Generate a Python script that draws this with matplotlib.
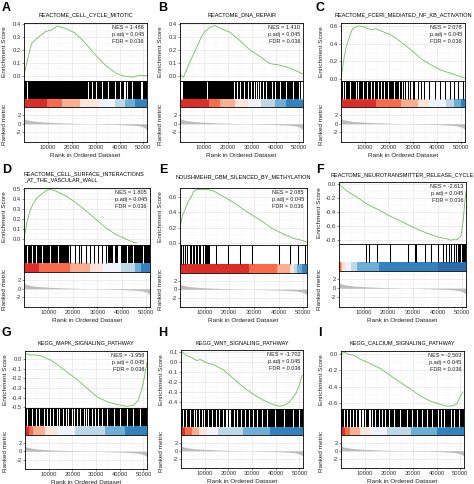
import matplotlib.pyplot as plt

plt.rcParams['font.family'] = ['Liberation Sans', 'DejaVu Sans']
plt.rcParams['axes.unicode_minus'] = False

W, H = 474, 484
x_max = 51500

panels = ['A', 'B', 'C', 'D', 'E', 'F', 'G', 'H', 'I']

titles = {
    'A': 'REACTOME_CELL_CYCLE_MITOTIC',
    'B': 'REACTOME_DNA_REPAIR',
    'C': 'REACTOME_FCERI_MEDIATED_NF_KB_ACTIVATION',
    'D': 'REACTOME_CELL_SURFACE_INTERACTIONS\n_AT_THE_VASCULAR_WALL',
    'E': 'NOUSHMEHR_GBM_SILENCED_BY_METHYLATION',
    'F': 'REACTOME_NEUROTRANSMITTER_RELEASE_CYCLE',
    'G': 'KEGG_MAPK_SIGNALING_PATHWAY',
    'H': 'KEGG_WNT_SIGNALING_PATHWAY',
    'I': 'KEGG_CALCIUM_SIGNALING_PATHWAY',
}
nes = {'A': '1.486', 'B': '1.410', 'C': '2.078', 'D': '1.805', 'E': '2.085',
       'F': '-2.613', 'G': '-1.958', 'H': '-1.702', 'I': '-2.563'}
padj = '0.045'
fdr = '0.036'

# running enrichment score
es_x = {
    'A': [0, 900, 1800, 3200, 6100, 8900, 11700, 13800, 17300, 21500, 25800, 30000, 34200, 38500, 41300, 45500, 48300, 51500],
    'B': [0, 1400, 4200, 7000, 9000, 10400, 12500, 14600, 17400, 20900, 25100, 29200, 33400, 37600, 41100, 44500, 48000, 51500],
    'C': [0, 1100, 2100, 3500, 4800, 6900, 8300, 10400, 12500, 14500, 16600, 20800, 24900, 29100, 33200, 37400, 41500, 45700, 49800, 51500],
    'D': [0, 1100, 2400, 3800, 5200, 7200, 9200, 10600, 13300, 17400, 21500, 25600, 29600, 33700, 37800, 41900, 44600, 46000],
    'E': [270, 1100, 2000, 3400, 4700, 5400, 6800, 8800, 11500, 13600, 17600, 21700, 25700, 29800, 33900, 37900, 42000, 46100, 48800, 51500],
    'F': [0, 3400, 7500, 11500, 15600, 19600, 23700, 27800, 31800, 35900, 40000, 44000, 45400, 46700, 48100, 49500, 50400, 51100, 51500],
    'G': [300, 2100, 4200, 6300, 8500, 10600, 13400, 17600, 21900, 26100, 30300, 34500, 38800, 43000, 45800, 47900, 49400, 50300, 51500],
    'H': [400, 2500, 4600, 6700, 8100, 10900, 13700, 17900, 22100, 26300, 30500, 34700, 38900, 41700, 44500, 46600, 48700, 50100, 51200],
    'I': [400, 1800, 3200, 5300, 8100, 12300, 16500, 20700, 24900, 29100, 33300, 37500, 41700, 44500, 47300, 48700, 50100, 51100],
}
es_y = {
    'A': [0.0, 0.08, 0.15, 0.25, 0.30, 0.34, 0.355, 0.385, 0.366, 0.33, 0.25, 0.16, 0.08, 0.02, 0.0, -0.01, 0.005, 0.0],
    'B': [0.015, -0.01, 0.11, 0.22, 0.30, 0.34, 0.37, 0.385, 0.36, 0.335, 0.27, 0.2, 0.15, 0.095, 0.085, 0.07, 0.045, 0.015],
    'C': [0.0, 0.21, 0.36, 0.48, 0.57, 0.60, 0.60, 0.58, 0.56, 0.57, 0.545, 0.5, 0.42, 0.33, 0.23, 0.16, 0.10, 0.065, 0.026, 0.01],
    'D': [0.0, 0.16, 0.28, 0.36, 0.41, 0.45, 0.49, 0.5, 0.48, 0.43, 0.36, 0.28, 0.195, 0.11, 0.045, 0.0, -0.03, -0.035],
    'E': [0.25, 0.37, 0.43, 0.55, 0.61, 0.67, 0.70, 0.70, 0.70, 0.68, 0.61, 0.53, 0.44, 0.355, 0.27, 0.18, 0.117, 0.06, 0.04, 0.01],
    'F': [0.0, -0.1, -0.19, -0.29, -0.36, -0.44, -0.51, -0.58, -0.65, -0.71, -0.76, -0.79, -0.81, -0.79, -0.80, -0.74, -0.51, -0.22, -0.1],
    'G': [0.06, 0.045, 0.045, 0.038, 0.017, -0.007, -0.05, -0.13, -0.21, -0.30, -0.39, -0.44, -0.47, -0.49, -0.48, -0.42, -0.30, -0.20, -0.03],
    'H': [0.1, 0.06, 0.042, 0.014, 0.024, -0.01, -0.028, -0.08, -0.168, -0.255, -0.325, -0.385, -0.43, -0.448, -0.43, -0.38, -0.31, -0.22, -0.13],
    'I': [0.008, 0.02, -0.004, -0.013, -0.063, -0.117, -0.18, -0.264, -0.35, -0.43, -0.516, -0.58, -0.62, -0.64, -0.635, -0.6, -0.507, -0.465],
}
es_ticks = {
    'A': [0.0, 0.1, 0.2, 0.3, 0.4],
    'B': [0.0, 0.1, 0.2, 0.3, 0.4],
    'C': [0.0, 0.2, 0.4, 0.6],
    'D': [0.0, 0.1, 0.2, 0.3, 0.4, 0.5],
    'E': [0.0, 0.2, 0.4, 0.6],
    'F': [-0.8, -0.6, -0.4, -0.2, 0.0],
    'G': [-0.5, -0.4, -0.3, -0.2, -0.1, 0.0],
    'H': [-0.4, -0.3, -0.2, -0.1, 0.0, 0.1],
    'I': [-0.6, -0.4, -0.2, 0.0],
}
es_lim = {
    'A': (-0.04, 0.408), 'B': (-0.038, 0.405), 'C': (-0.022, 0.635),
    'D': (-0.057, 0.513), 'E': (-0.026, 0.72), 'F': (-0.863, 0.034),
    'G': (-0.507, 0.086), 'H': (-0.475, 0.12), 'I': (-0.675, 0.038),
}

# hit marks: dense black spans, white gaps inside them, single hit lines
hit_blocks = {
    'A': [(0, 51500)],
    'B': [(0, 51500)],
    'C': [(0, 25500)],
    'D': [(0, 18400), (34500, 36200), (37300, 38600), (39800, 51500)],
    'E': [(2700, 3400), (4100, 4700), (5300, 6000), (6500, 7300), (7900, 8700), (9200, 9800), (10300, 12200)],
    'F': [(48100, 51500)],
    'G': [(0, 51500)],
    'H': [(0, 51500)],
    'I': [(0, 51500)],
}
hit_gaps = {
    'A': [1260, 26600, 28600, 30100, 32500, 35000, 38100, 40300, 41800, 42400, 43000, 45400, 48800, 49400],
    'B': [300, 900, 11100, 22500, 23900, 25200, 26600, 28300, 29600, 30800, 32000, 32700, 33400, 34900, 36100,
          38400, 39800, 41800, 44500, 47300, 49800, 50500, 51200],
    'C': [700, 1700, 3900, 6200, 7200, 9000, 10800, 12500, 13800, 15200, 16600, 18000, 19700, 22100, 24200],
    'D': [1100, 3100, 4900, 7200, 10600, 14000, 41900, 44600, 48700],
    'E': [],
    'F': [49500],
    'G': [1000, 2800, 4700, 6100, 8000, 9200, 10600, 12000, 13400, 14500, 15900, 17300, 18300, 19700, 20700,
          22100, 23300, 24700, 25800, 26800, 28200, 29600, 31000, 32400, 34500, 37400, 40200, 43000, 45800, 48600],
    'H': [800, 2200, 3900, 5300, 6400, 7600, 8700, 9800, 11200, 13000, 14800, 16200, 17600, 18800, 19500, 20200,
          20700, 22400, 23800, 25500, 27200, 28800, 30500, 32200, 34000, 36100, 39600, 43400, 47300, 49800],
    'I': [1100, 2500, 3600, 5000, 6400, 7400, 8000, 8700, 9200, 10200, 11600, 12300, 13000, 14400, 15800, 17200,
          18600, 20000, 22100, 24600, 27700, 29800, 31900, 34000, 36100, 38200, 40600, 41700, 43100, 45900,
          47300, 49400],
}
hit_lines = {
    'A': [], 'B': [],
    'C': [25600, 26600, 27700, 28800, 29800, 30400, 31800, 33200, 34600, 36700, 39000, 41200, 43200, 45400,
          47100, 48700, 50500],
    'D': [19000, 20800, 22300, 23500, 25300, 26900, 28700, 30300, 31700, 33500],
    'E': [270, 1350, 2000, 14600, 19600, 24400, 29100, 40000, 44700, 47800, 50500],
    'F': [11100, 12200, 15600, 20700, 27800, 30800, 31300, 34800, 37500, 40200, 42000, 43400, 44700, 45400,
          46700, 47400],
    'G': [], 'H': [], 'I': [],
}

# coloured rank bar: segment edges and colours
bar_edges = {
    'A': [0, 9500, 15800, 23500, 31200, 38200, 42400, 46600, 51500],
    'B': [0, 12200, 16700, 23000, 28500, 34100, 39700, 44500, 51500],
    'C': [0, 14500, 24900, 31800, 36700, 43600, 47100, 49800, 51500],
    'D': [0, 6300, 18800, 26900, 32400, 39800, 45300, 48000, 51500],
    'E': [0, 27800, 39300, 44700, 46100, 47400, 49500, 51500],
    'F': [0, 700, 1400, 2700, 4700, 7500, 16300, 40000, 51500],
    'G': [0, 1800, 3500, 8500, 13400, 21200, 33800, 42300, 51500],
    'H': [0, 1800, 4600, 7400, 10900, 15800, 26300, 37500, 51500],
    'I': [0, 1800, 3900, 8100, 12300, 19300, 29100, 40300, 51500],
}
red_to_blue = ['#DE2D26', '#FB6A4A', '#FCAE91', '#FEE5D9', '#EFF3FF', '#BDD7E7', '#6BAED6', '#3182BD']
bar_colors = {p: red_to_blue for p in panels}
bar_colors['E'] = ['#DE2D26', '#FB6A4A', '#FCAE91', '#FEE5D9', '#BDD7E7', '#6BAED6', '#3182BD']
bar_colors['F'] = ['#FB6A4A', '#FCAE91', '#FEE5D9', '#EFF3FF', '#BDD7E7', '#6BAED6', '#3182BD', '#2B6CAE']

# ranked list metric (same gene list for every panel)
rank_x = [0, 300, 1000, 2500, 5000, 10000, 15000, 20000, 25000, 30000, 35000, 40000, 45000, 48000, 50000, 51000, 51500]
rank_y = [1.4, 1.1, 0.95, 0.75, 0.55, 0.35, 0.22, 0.12, 0.04, -0.04, -0.12, -0.2, -0.32, -0.48, -0.75, -1.1, -1.5]

# layout in pixels: left, right, top, ES bottom, hits bottom, metric bottom
boxes = {
    'A': (24, 147, 23, 81, 107, 142), 'B': (180, 303, 23, 81, 107, 142), 'C': (341, 465, 23, 81, 107, 142),
    'D': (24, 150, 188, 245, 272, 307), 'E': (180, 307, 188, 245, 273, 307), 'F': (339, 466, 182, 244, 271, 307),
    'G': (25, 147, 351, 408, 435, 469), 'H': (181, 303, 350, 409, 435, 468), 'I': (341, 464, 351, 409, 435, 468),
}
title_y = {'A': 15, 'B': 15, 'C': 15, 'D': 176.5, 'E': 177, 'F': 175, 'G': 343, 'H': 343, 'I': 343}
letters = {'A': (6, 8), 'B': (163, 8), 'C': (320, 8), 'D': (7, 170), 'E': (163, 170), 'F': (320, 170),
           'G': (6, 333), 'H': (163, 333), 'I': (320, 333)}

fig = plt.figure(figsize=(W / 100, H / 100), dpi=100)

grid_major = dict(color='#E3E3E3', lw=0.45)
grid_minor = dict(color='#F0F0F0', lw=0.3)
x_major = [10000, 20000, 30000, 40000, 50000]
x_minor = [5000, 15000, 25000, 35000, 45000]


def px_rect(l, r, t, b):
    return [l / W, 1 - b / H, (r - l) / W, (b - t) / H]


def style(ax):
    for s in ax.spines.values():
        s.set_linewidth(0.6)
        s.set_color('black')
    ax.tick_params(length=1.5, width=0.4, labelsize=4.2, pad=1, labelcolor='#333333', color='#333333')
    ax.set_xlim(0, x_max)


for p in panels:
    l, r, t, b1, b2, b3 = boxes[p]
    wpx = r - l

    # enrichment score
    ax = fig.add_axes(px_rect(l, r, t, b1))
    style(ax)
    ticks = es_ticks[p]
    step = ticks[1] - ticks[0]
    ax.set_yticks(ticks)
    ax.set_yticks([v + step / 2 for v in [ticks[0] - step] + ticks], minor=True)
    ax.set_yticklabels(['%.1f' % v for v in ticks])
    ax.set_xticks(x_major)
    ax.set_xticks(x_minor, minor=True)
    ax.set_ylim(*es_lim[p])
    ax.grid(True, which='major', **grid_major)
    ax.grid(True, which='minor', **grid_minor)
    ax.set_axisbelow(True)
    ax.tick_params(axis='x', which='both', length=0, labelbottom=False)
    ax.tick_params(axis='y', which='minor', length=0)
    ax.plot(es_x[p], es_y[p], color='#6DBE5A', lw=0.6)
    ax.set_ylabel('Enrichment Score', fontsize=4.6, color='#222222')
    ax.yaxis.set_label_coords(-17 / wpx, 0.5)
    ax.text(1 - 3 / wpx, 1 - 2 / (b1 - t), 'NES = %s\np.adj = %s\nFDR = %s' % (nes[p], padj, fdr),
            transform=ax.transAxes, ha='right', va='top', fontsize=4.0, linespacing=1.45, color='#222222')

    # hit positions and coloured bar
    ax = fig.add_axes(px_rect(l, r, b1, b2))
    style(ax)
    ax.set_ylim(0, 1)
    ax.set_xticks([])
    ax.set_yticks([])
    ax.broken_barh([(s, e - s) for s, e in hit_blocks[p]], (0.32, 0.68), facecolors='black')
    if hit_gaps[p]:
        ax.vlines(hit_gaps[p], 0.32, 1, colors='white', lw=0.75)
    if hit_lines[p]:
        ax.vlines(hit_lines[p], 0.32, 1, colors='black', lw=0.75)
    edges = bar_edges[p]
    ax.broken_barh([(edges[i], edges[i + 1] - edges[i]) for i in range(len(edges) - 1)], (0, 0.32),
                   facecolors=bar_colors[p][:len(edges) - 1])

    # ranked list metric
    ax = fig.add_axes(px_rect(l, r, b2, b3))
    style(ax)
    ax.set_ylim(-4.2, 3.85)
    ax.set_yticks([-2, 0, 2])
    ax.set_yticks([-3, -1, 1, 3], minor=True)
    ax.set_xticks(x_major)
    ax.set_xticks(x_minor, minor=True)
    ax.tick_params(which='minor', length=0)
    ax.grid(True, which='major', **grid_major)
    ax.grid(True, which='minor', **grid_minor)
    ax.set_axisbelow(True)
    ax.fill_between(rank_x, rank_y, 0, color='#BDBDBD', lw=0)
    ax.set_ylabel('Ranked metric', fontsize=4.6, color='#222222')
    ax.yaxis.set_label_coords(-17 / wpx, 0.5)
    ax.set_xlabel('Rank in Ordered Dataset', fontsize=4.6, color='#222222', labelpad=1.5)

    # title and letter
    if p == 'D':
        fig.text(l / W, 1 - title_y[p] / H, titles[p], ha='left', va='center', fontsize=4.0, linespacing=1.3)
    else:
        fig.text((l + r) / 2 / W, 1 - title_y[p] / H, titles[p], ha='center', va='center', fontsize=4.0)
    lx, ly = letters[p]
    fig.text(lx / W, 1 - ly / H, p, ha='center', va='center', fontsize=9, fontweight='bold')

fig.savefig('out.png', dpi=100)
